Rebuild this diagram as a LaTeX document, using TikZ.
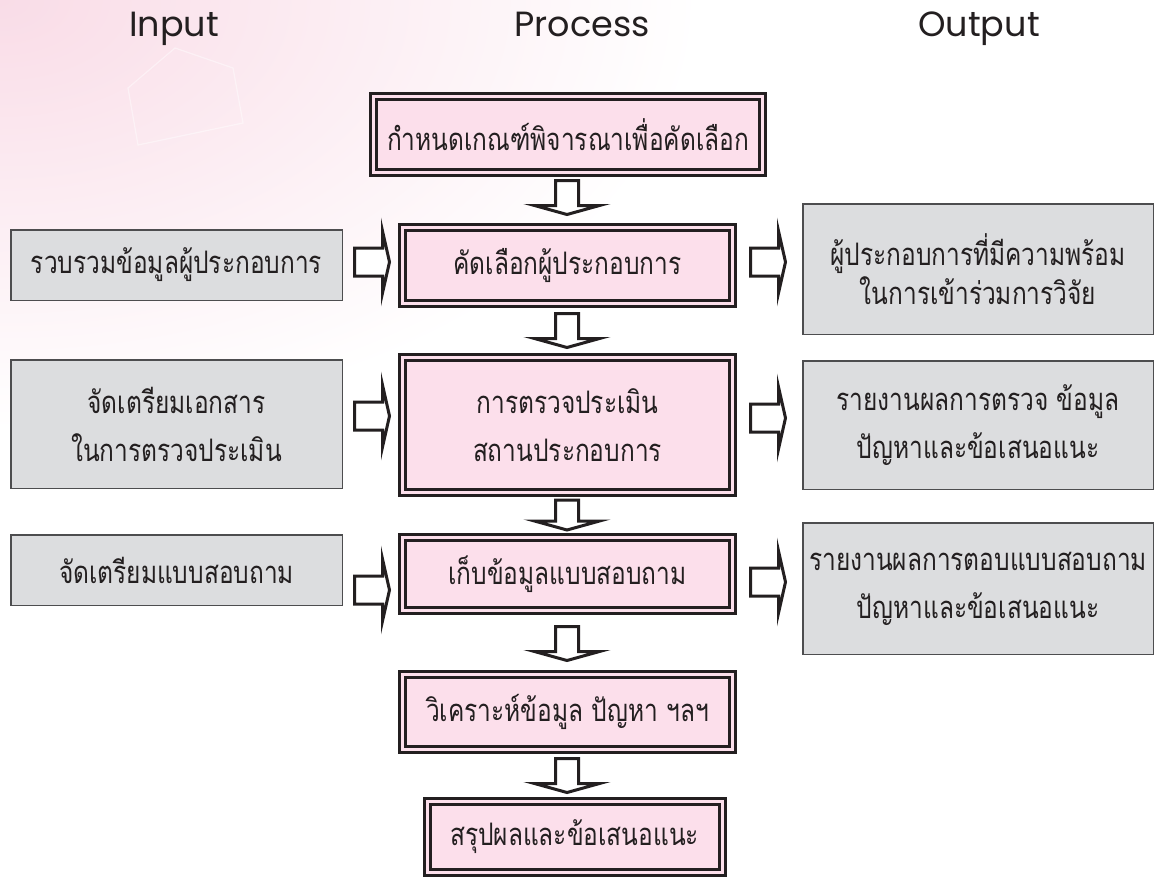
\documentclass[tikz,border=0pt]{standalone}
\usepackage{fontspec}
\newfontfamily\thaifont[Script=Thai,FakeStretch=0.79]{Loma}
\newfontfamily\headfont{Poppins}
\usetikzlibrary{calc}
\definecolor{pinkfill}{HTML}{FCDFEB}
\definecolor{greyfill}{HTML}{DCDDDF}
\definecolor{greyline}{HTML}{4D4D4F}
\definecolor{ink}{HTML}{231F20}
\definecolor{bgpink}{HTML}{F9DCE7}
\begin{document}
\begin{tikzpicture}[x=1pt,y=-1pt,
  thaitext/.style={text=ink, font=\thaifont\fontsize{31}{48}\selectfont, align=center},
  procbox/.style={thaitext, draw=ink, line width=3pt, double=pinkfill, double distance=3pt,
    fill=pinkfill, inner sep=0pt},
  greybox/.style={thaitext, draw=greyline, line width=1.5pt, fill=greyfill, inner sep=0pt},
  headtext/.style={text=ink, font=\headfont\fontsize{35}{40}\selectfont, anchor=base},
  blockarrow/.style={draw=ink, line width=3pt, fill=white, line join=miter},
  rarrow/.pic={\path[blockarrow] (0,-14) -- (28,-14) -- (28,-31) -- (35,0) -- (28,31) -- (28,14) -- (0,14) -- cycle;},
  darrow/.pic={\path[blockarrow] (-11.5,0) -- (11.5,0) -- (11.5,25) -- (32.5,25) -- (0,34) -- (-32.5,25) -- (-11.5,25) -- cycle;},
  darrowshort/.pic={\path[blockarrow] (-11.5,0) -- (11.5,0) -- (11.5,21) -- (32.5,21) -- (0,30) -- (-32.5,21) -- (-11.5,21) -- cycle;}
]
\useasboundingbox (0,0) rectangle (1155,880);
% background
\fill[white] (0,0) rectangle (1155,880);
\begin{scope}
  \clip (0,0) rectangle (1155,880);
  \shade[inner color=bgpink, outer color=white] (0,0) ellipse [x radius=700, y radius=430];
  \draw[white, line width=1.2pt, opacity=0.45] (175,48) -- (233,68) -- (243,123) -- (138,145) -- (128,88) -- cycle;
\end{scope}

% headers
\node[headtext] (hin) at (174,37) {Input};
\node[headtext] (hproc) at (582,37) {Process};
\node[headtext] (hout) at (979,37) {Output};

% process column
\node[procbox, minimum width=389pt, minimum height=76pt] (p1) at (568,134.5) {กำหนดเกณฑ์พิจารณาเพื่อคัดเลือก};
\node[procbox, minimum width=330pt, minimum height=76pt] (p2) at (567.5,265.5) {คัดเลือกผู้ประกอบการ};
\node[procbox, minimum width=330pt, minimum height=135pt] (p3) at (567.5,425) {การตรวจประเมิน\\สถานประกอบการ};
\node[procbox, minimum width=330pt, minimum height=73pt] (p4) at (567.5,574) {เก็บข้อมูลแบบสอบถาม};
\node[procbox, minimum width=330pt, minimum height=75pt] (p5) at (567.5,712) {วิเคราะห์ข้อมูล ปัญหา ฯลฯ};
\node[procbox, minimum width=295pt, minimum height=71pt] (p6) at (574.5,837) {สรุปผลและข้อเสนอแนะ};

% input column
\node[greybox, minimum width=331.5pt, minimum height=70.5pt] (i1) at (176.5,265) {รวบรวมข้อมูลผู้ประกอบการ};
\node[greybox, minimum width=331.5pt, minimum height=128.5pt] (i2) at (176.5,424) {จัดเตรียมเอกสาร\\ในการตรวจประเมิน};
\node[greybox, minimum width=331.5pt, minimum height=70.5pt] (i3) at (176.5,570) {จัดเตรียมแบบสอบถาม};

% output column
\node[greybox, minimum width=350.5pt, minimum height=130.5pt, font=\thaifont\fontsize{31}{39}\selectfont] (o1) at (978,269) {ผู้ประกอบการที่มีความพร้อม\\ในการเข้าร่วมการวิจัย};
\node[greybox, minimum width=350.5pt, minimum height=128.5pt] (o2) at (978,425) {รายงานผลการตรวจ ข้อมูล\\ปัญหาและข้อเสนอแนะ};
\node[greybox, minimum width=350.5pt, minimum height=131.5pt] (o3) at (978,588.5) {รายงานผลการตอบแบบสอบถาม\\ปัญหาและข้อเสนอแนะ};

% down arrows
\coordinate (d1) at (567,180.5);
\coordinate (d2) at (567,313.5);
\coordinate (d3) at (567,500);
\coordinate (d4) at (567,626.5);
\coordinate (d5) at (567,758.5);
\pic at (d1) {darrow};
\pic at (d2) {darrow};
\pic at (d3) {darrowshort};
\pic at (d4) {darrow};
\pic at (d5) {darrow};

% input -> process arrows
\coordinate (a1) at (354.5,262);
\coordinate (a2) at (354.5,416);
\coordinate (a3) at (354.5,590);
\pic at (a1) {rarrow};
\pic at (a2) {rarrow};
\pic at (a3) {rarrow};

% process -> output arrows
\coordinate (b1) at (750.5,262);
\coordinate (b2) at (750.5,418);
\coordinate (b3) at (750.5,582);
\pic at (b1) {rarrow};
\pic at (b2) {rarrow};
\pic at (b3) {rarrow};
\end{tikzpicture}
\end{document}
